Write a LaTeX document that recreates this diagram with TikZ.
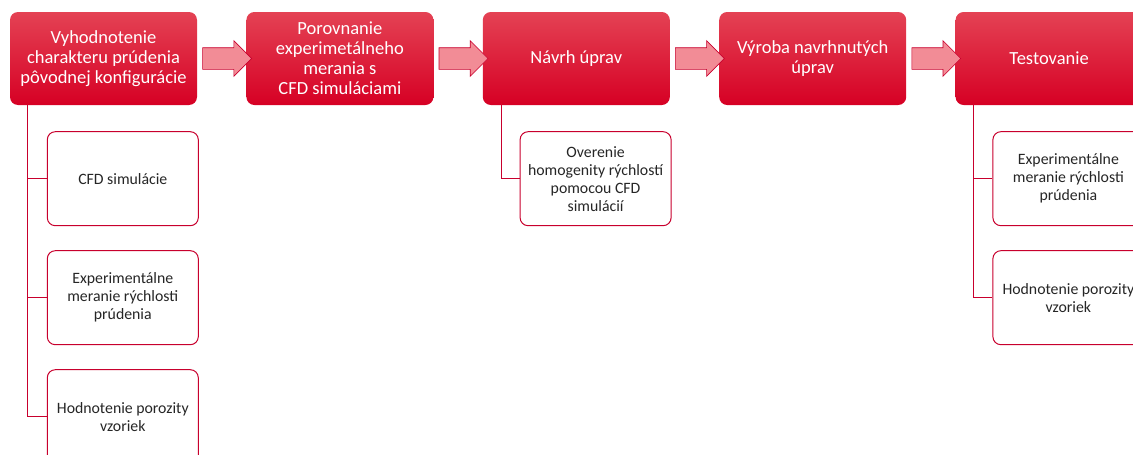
\documentclass[tikz,border=0pt]{standalone}
\usepackage{fontspec}
\setmainfont{Carlito}
\usetikzlibrary{shapes.arrows, positioning}

\definecolor{redtop}{RGB}{228,66,84}
\definecolor{redmid}{RGB}{228,0,42}
\definecolor{redbot}{RGB}{214,0,36}
\definecolor{redline}{RGB}{200,0,45}
\definecolor{redarrow}{RGB}{242,140,150}

\begin{document}
\begin{tikzpicture}[
    x=1pt, y=-1pt,
    node distance=24pt and 49pt,
    phase/.style={rectangle, rounded corners=8pt, minimum width=187pt, minimum height=93pt, align=center, text=white, top color=redtop, middle color=redmid, bottom color=redbot, font=\fontsize{18.5}{20}\selectfont, inner sep=2pt},
    task/.style={draw=redline, line width=1pt, fill=white, rectangle, rounded corners=8pt, minimum width=151pt, minimum height=94pt, align=center, text=black!85, font=\fontsize{15.8}{18}\selectfont, inner sep=2pt},
    flow/.style={single arrow, draw=redline, fill=redarrow, line width=0.6pt, inner xsep=0pt, inner ysep=10.5pt, minimum height=49pt, single arrow head extend=7pt, single arrow head indent=0pt},
    link/.style={draw=redline, line width=1.1pt}
]
\clip (0,0) rectangle (1133,455);

% Hlavné fázy
\node[phase] (vyh) at (103.5,58.5) {Vyhodnotenie\\charakteru prúdenia\\pôvodnej konfigurácie};
\node[phase, right=of vyh] (por) {Porovnanie\\experimetálneho\\merania s\\CFD simuláciami};
\node[phase, right=of por] (nav) {Návrh úprav};
\node[phase, right=of nav] (vyr) {Výroba navrhnutých\\úprav};
\node[phase, right=of vyr] (tes) {Testovanie};

% Šípky medzi fázami
\path (vyh) -- (por) node[flow, midway] (a1) {};
\path (por) -- (nav) node[flow, midway] (a2) {};
\path (nav) -- (vyr) node[flow, midway] (a3) {};
\path (vyr) -- (tes) node[flow, midway] (a4) {};

% Úlohy pod fázami
\node[task, anchor=north west] (cfd1) at ([xshift=37pt, yshift=-26pt]vyh.south west) {CFD simulácie};
\node[task, below=of cfd1] (exp1) {Experimentálne\\meranie rýchlosti\\prúdenia};
\node[task, below=of exp1] (poz1) {Hodnotenie porozity\\vzoriek};

\node[task, anchor=north west] (hom) at ([xshift=37pt, yshift=-26pt]nav.south west) {Overenie\\homogenity rýchlostí\\pomocou CFD\\simulácií};

\node[task, anchor=north west] (exp2) at ([xshift=37pt, yshift=-26pt]tes.south west) {Experimentálne\\meranie rýchlosti\\prúdenia};
\node[task, below=of exp2] (poz2) {Hodnotenie porozity\\vzoriek};

% Spojnice
\draw[link] ([xshift=18pt]vyh.south west) |- (cfd1.west);
\draw[link] ([xshift=18pt]vyh.south west) |- (exp1.west);
\draw[link] ([xshift=18pt]vyh.south west) |- (poz1.west);
\draw[link] ([xshift=19pt]nav.south west) |- (hom.west);
\draw[link] ([xshift=18pt]tes.south west) |- (exp2.west);
\draw[link] ([xshift=18pt]tes.south west) |- (poz2.west);

\end{tikzpicture}
\end{document}
